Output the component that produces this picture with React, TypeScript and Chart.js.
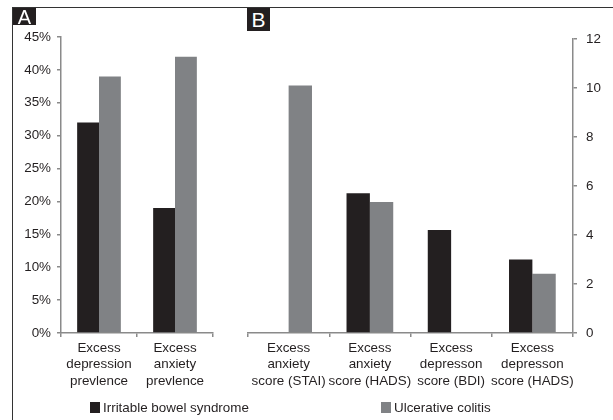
import React, { useEffect, useRef } from "react";
import { Chart, registerables } from "chart.js";

Chart.register(...registerables);

const prevCategories: string[][] = [
  ["Excess", "depression", "prevlence"],
  ["Excess", "anxiety", "prevlence"],
];
const prevIBS: number[] = [32, 19];
const prevUC: number[] = [39, 42];

const scoreCategories: string[][] = [
  ["Excess", "anxiety", "score (STAI)"],
  ["Excess", "anxiety", "score (HADS)"],
  ["Excess", "depresson", "score (BDI)"],
  ["Excess", "depresson", "score (HADS)"],
];
const scoreIBS: (number | null)[] = [null, 5.7, 4.2, 3.0];
const scoreUC: (number | null)[] = [10.1, 5.35, null, 2.42];

const seriesNames = ["Irritable bowel syndrome", "Ulcerative colitis"];
const COLORS = ["#231F20", "#808285"];
const AXIS = "#8a8a8a";
const TEXT = "#231F20";
const FONT = "'Liberation Sans', Arial, sans-serif";
const FS = 13.4;

function makeChart(
  canvas: HTMLCanvasElement,
  labels: string[][],
  a: (number | null)[],
  b: (number | null)[],
  opts: { max: number; step: number; pos: "left" | "right"; pct: boolean; yWidth: number; padding: any }
) {
  return new Chart(canvas, {
    type: "bar",
    data: {
      labels,
      datasets: [
        { label: seriesNames[0], data: a, backgroundColor: COLORS[0], categoryPercentage: 0.575, barPercentage: 1 },
        { label: seriesNames[1], data: b, backgroundColor: COLORS[1], categoryPercentage: 0.575, barPercentage: 1 },
      ],
    },
    options: {
      animation: false,
      responsive: false,
      devicePixelRatio: 1,
      layout: { padding: opts.padding },
      plugins: { legend: { display: false }, tooltip: { enabled: false } },
      scales: {
        x: {
          grid: { display: true, drawOnChartArea: false, drawTicks: true, tickLength: 4, color: AXIS, lineWidth: 1.5, offset: true },
          border: { display: true, color: AXIS, width: 1.5 },
          ticks: {
            color: TEXT,
            font: { family: FONT, size: FS, lineHeight: 1.22 },
            padding: 3,
            maxRotation: 0,
            autoSkip: false,
          },
          afterFit: (s: any) => {
            s.height = 60;
          },
        },
        y: {
          position: opts.pos,
          min: 0,
          max: opts.max,
          grid: { display: true, drawOnChartArea: false, drawTicks: true, tickLength: 4, color: AXIS, lineWidth: 1.5 },
          border: { display: true, color: AXIS, width: 1.5 },
          ticks: {
            stepSize: opts.step,
            color: TEXT,
            font: { family: FONT, size: FS },
            padding: opts.pos === "left" ? 6 : 9,
            callback: (v: any) => (opts.pct ? v + "%" : String(v)),
          },
          afterFit: (s: any) => {
            s.width = opts.yWidth;
          },
        },
      },
    },
  });
}

export default function App() {
  const refA = useRef<HTMLCanvasElement>(null);
  const refB = useRef<HTMLCanvasElement>(null);

  useEffect(() => {
    document.body.style.margin = "0";
    const cA = makeChart(refA.current!, prevCategories, prevIBS, prevUC, {
      max: 45,
      step: 5,
      pos: "left",
      pct: true,
      yWidth: 61,
      padding: { left: 0, right: 27, top: 37, bottom: 27 },
    });
    const cB = makeChart(refB.current!, scoreCategories, scoreIBS, scoreUC, {
      max: 12,
      step: 2,
      pos: "right",
      pct: false,
      yWidth: 40,
      padding: { left: 8, right: 0, top: 39, bottom: 27 },
    });
    return () => {
      cA.destroy();
      cB.destroy();
    };
  }, []);

  const legendItem = (x: number, i: number) => (
    <div
      style={{
        position: "absolute",
        left: x,
        top: 400,
        display: "flex",
        alignItems: "center",
        fontFamily: FONT,
        fontSize: FS,
        color: TEXT,
        whiteSpace: "nowrap",
      }}
    >
      <span style={{ display: "inline-block", width: 10, height: 11, background: COLORS[i], marginRight: 3 }} />
      <span>{seriesNames[i]}</span>
    </div>
  );

  return (
    <div style={{ position: "relative", width: 613, height: 420, overflow: "hidden", background: "#fff" }}>
      <canvas ref={refA} width={240} height={420} style={{ position: "absolute", left: 0, top: 0 }} />
      <canvas ref={refB} width={373} height={420} style={{ position: "absolute", left: 240, top: 0 }} />
      <div style={{ position: "absolute", left: 12, top: 7, width: 601, height: 413, borderTop: "1.5px solid #333", borderLeft: "1.5px solid #333" }} />
      <div
        style={{
          position: "absolute",
          left: 13,
          top: 8,
          width: 23,
          height: 17,
          background: "#231F20",
          color: "#fff",
          fontFamily: FONT,
          fontSize: 20,
          lineHeight: "19px",
          textAlign: "center",
          overflow: "hidden",
        }}
      >
        A
      </div>
      <div
        style={{
          position: "absolute",
          left: 247,
          top: 8,
          width: 23,
          height: 23,
          background: "#231F20",
          color: "#fff",
          fontFamily: FONT,
          fontSize: 21,
          lineHeight: "23px",
          textAlign: "center",
        }}
      >
        B
      </div>
      {legendItem(90, 0)}
      {legendItem(381, 1)}
    </div>
  );
}
